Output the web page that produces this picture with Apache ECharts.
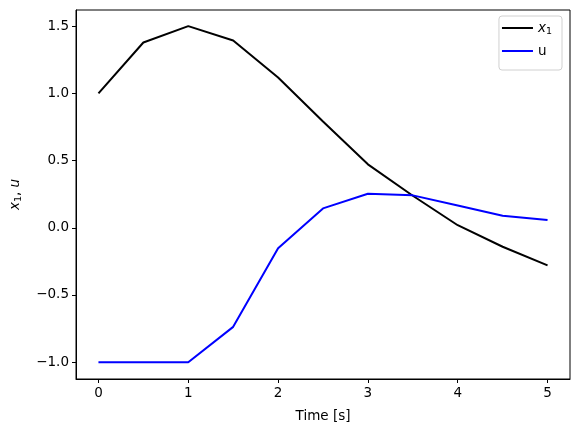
<!DOCTYPE html>
<html>
<head>
<meta charset="utf-8">
<script src="https://cdn.jsdelivr.net/npm/echarts@6/dist/echarts.min.js"></script>
<style>
  html, body { margin: 0; padding: 0; background: #fff; }
  #chart { width: 579px; height: 432px; }
</style>
</head>
<body>
<div id="chart"></div>
<script>
// time samples and the two signals
const time = [0, 0.5, 1, 1.5, 2, 2.5, 3, 3.5, 4, 4.5, 5];
const x1 = [1.0, 1.378, 1.50, 1.393, 1.118, 0.79, 0.472, 0.238, 0.019, -0.141, -0.28];
const u = [-1.0, -1.0, -1.0, -0.737, -0.152, 0.144, 0.253, 0.241, 0.165, 0.09, 0.058];

const xTicks = [0, 1, 2, 3, 4, 5];
const yTicks = [-1.0, -0.5, 0.0, 0.5, 1.0, 1.5];

const font = 'DejaVu Sans';
const fs = 13.5;

const toPairs = (xs, ys) => xs.map((t, i) => [t, ys[i]]);

const fmtY = (v) => {
    let s = Math.abs(v).toFixed(1);
    return v < 0 ? '\u2212' + s : s;
};

const chart = echarts.init(document.getElementById('chart'), null, { renderer: 'canvas' });

const option = {
    animation: false,
    backgroundColor: '#fff',
    textStyle: { fontFamily: font },
    grid: {
        left: 73, right: 9, top: 10, bottom: 53,
        show: true, borderColor: '#000', borderWidth: 1
    },
    legend: {
        top: 16, right: 17,
        orient: 'vertical',
        icon: 'rect',
        itemWidth: 31, itemHeight: 2, itemGap: 7,
        padding: [5, 10, 12, 3],
        borderColor: '#d0d0d0', borderWidth: 1, borderRadius: 3,
        textStyle: {
            fontFamily: font, fontSize: fs, color: '#000',
            rich: {
                i: { fontStyle: 'italic', fontSize: fs, fontFamily: font },
                s: { fontSize: 9.5, padding: [8, 0, 0, 0], fontFamily: font }
            }
        },
        formatter: (name) => name === 'x1' ? '{i|x}{s|1}' : name,
        data: ['x1', 'u']
    },
    xAxis: {
        type: 'value',
        min: -0.25, max: 5.25,
        name: 'Time [s]',
        nameLocation: 'middle',
        nameGap: 30,
        nameTextStyle: { fontFamily: font, fontSize: fs, color: '#000' },
        splitLine: { show: false },
        axisLine: { show: true, onZero: false, lineStyle: { color: '#000', width: 1 } },
        axisTick: { show: true, length: 4, customValues: xTicks, lineStyle: { color: '#000' } },
        axisLabel: {
            customValues: xTicks, margin: 7,
            fontFamily: font, fontSize: fs, color: '#000'
        }
    },
    yAxis: {
        type: 'value',
        min: -1.125, max: 1.62,
        name: '{i|x}{s|1}{n|, }{i|u}',
        nameLocation: 'middle',
        nameGap: 52,
        nameRotate: 90,
        nameTextStyle: {
            color: '#000',
            rich: {
                i: { fontStyle: 'italic', fontSize: fs, fontFamily: font },
                s: { fontSize: 9.5, padding: [8, 0, 0, 0], fontFamily: font },
                n: { fontSize: fs, fontFamily: font }
            }
        },
        splitLine: { show: false },
        axisLine: { show: true, onZero: false, lineStyle: { color: '#000', width: 1 } },
        axisTick: { show: true, length: 4, customValues: yTicks, lineStyle: { color: '#000' } },
        axisLabel: {
            customValues: yTicks, margin: 7,
            formatter: fmtY,
            fontFamily: font, fontSize: fs, color: '#000'
        }
    },
    series: [
        {
            name: 'x1', type: 'line',
            data: toPairs(time, x1),
            symbol: 'none',
            lineStyle: { color: '#000000', width: 2 },
            itemStyle: { color: '#000000' }
        },
        {
            name: 'u', type: 'line',
            data: toPairs(time, u),
            symbol: 'none',
            lineStyle: { color: '#0000ff', width: 2 },
            itemStyle: { color: '#0000ff' }
        }
    ]
};

chart.setOption(option);
</script>
</body>
</html>
